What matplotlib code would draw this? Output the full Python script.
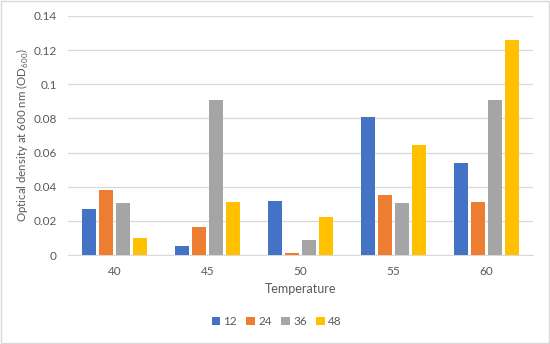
import matplotlib
matplotlib.use("Agg")
import matplotlib.pyplot as plt
import numpy as np

categories = ["40", "45", "50", "55", "60"]
series_names = ["12", "24", "36", "48"]
s12 = [0.027, 0.0055, 0.0318, 0.0808, 0.054]
s24 = [0.0381, 0.0164, 0.0012, 0.035, 0.031]
s36 = [0.0307, 0.0909, 0.0088, 0.0305, 0.0909]
s48 = [0.0098, 0.031, 0.0223, 0.0645, 0.1259]
colors = ["#4472C4", "#ED7D31", "#A5A5A5", "#FFC000"]

plt.rcParams['font.family'] = ['Lato', 'DejaVu Sans']
plt.rcParams['mathtext.fontset'] = 'custom'
plt.rcParams['mathtext.rm'] = 'Lato'
txt = "#595959"

fig = plt.figure(figsize=(5.5, 3.44), dpi=100)
fig.patches.append(plt.Rectangle((0.002, 0.003), 0.996, 0.994, transform=fig.transFigure,
                                 fill=False, edgecolor="#D9D9D9", linewidth=1))
ax = fig.add_axes([0.1236, 0.2587, 0.8455, 0.6948])

x = np.arange(len(categories))
width = 0.143
pitch = 0.183
for i, (vals, name) in enumerate(zip([s12, s24, s36, s48], series_names)):
    offs = (i - 1.5) * pitch
    ax.bar(x + offs, vals, width, color=colors[i], label=name, zorder=3)

ax.set_xlim(-0.5, len(categories) - 0.5)
ax.set_ylim(0, 0.14)
ax.set_yticks(np.arange(0, 0.141, 0.02))
ax.set_yticklabels(["0", "0.02", "0.04", "0.06", "0.08", "0.1", "0.12", "0.14"])
ax.set_xticks(x)
ax.set_xticklabels(categories)
ax.grid(axis="y", color="#D9D9D9", linewidth=0.9, zorder=0)
for s in ["top", "right", "left"]:
    ax.spines[s].set_visible(False)
ax.spines["bottom"].set_color("#D9D9D9")
ax.tick_params(axis="both", length=0, colors=txt, labelsize=8.5)
ax.tick_params(axis="x", pad=8)
ax.tick_params(axis="y", pad=8)
ax.set_xlabel("Temperature", color=txt, fontsize=9, labelpad=4)
ax.set_ylabel("Optical density at 600 nm (OD$_{\\mathrm{600}}$)", color=txt, fontsize=8.3, labelpad=2)

leg = fig.legend(loc="center", bbox_to_anchor=(0.503, 0.064), ncol=4, frameon=False,
                 fontsize=8.5, handlelength=0.7, handleheight=0.7, handletextpad=0.3,
                 columnspacing=0.8, labelcolor=txt)

fig.savefig("out.png", dpi=100)
